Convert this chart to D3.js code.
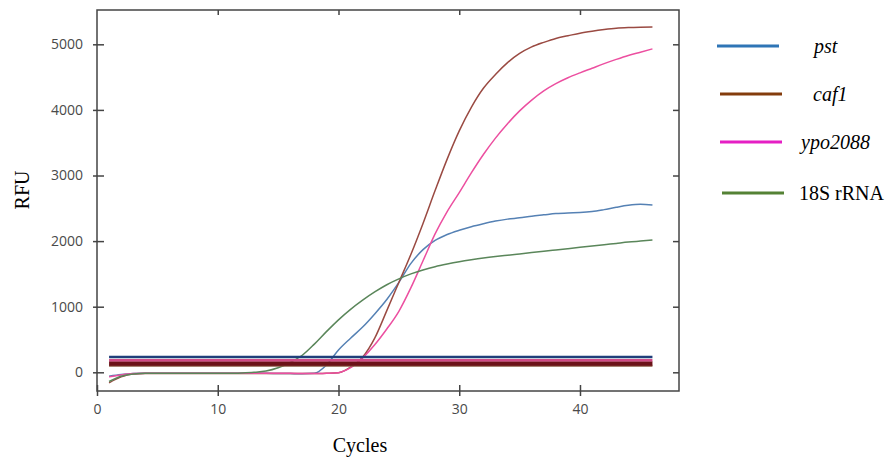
<!DOCTYPE html>
<html>
<head>
<meta charset="utf-8">
<script src="https://cdn.jsdelivr.net/npm/d3@7"></script>
<style>
  body { margin: 0; background: #fff; }
  .tick text { font-family: "Open Sans", "DejaVu Sans", sans-serif; font-size: 14px; fill: #4a4a4a; }
</style>
</head>
<body>
<svg width="894" height="458"></svg>
<script>
const svg = d3.select("svg");

// cycles 1..46
const cycles = d3.range(1, 47);

const pst = [-60, -35, -20, -15, -15, -15, -15, -15, -15, -15, -15, -15, -15, -15, -18, -20,
  -22, -15, 110, 340, 520, 690, 890, 1110, 1370, 1660, 1870, 2010, 2100, 2165, 2220, 2265,
  2305, 2335, 2355, 2380, 2400, 2420, 2430, 2435, 2450, 2480, 2515, 2545, 2560, 2550];

const caf1 = [-160, -70, -25, -20, -20, -20, -20, -20, -20, -20, -20, -20, -20, -20, -20, -20,
  -20, -20, -15, -5, 80, 230, 520, 940, 1370, 1800, 2270, 2770, 3250, 3680, 4040, 4330,
  4540, 4720, 4860, 4960, 5030, 5090, 5130, 5170, 5200, 5225, 5245, 5255, 5260, 5262];

const ypo2088 = [-70, -40, -20, -15, -15, -15, -15, -15, -15, -15, -15, -15, -15, -15, -15, -15,
  -18, -20, -15, -5, 70, 220, 420, 660, 930, 1290, 1700, 2110, 2450, 2740, 3040, 3320,
  3570, 3790, 3985, 4150, 4290, 4400, 4490, 4565, 4635, 4705, 4770, 4830, 4880, 4930];

const rRNA18S = [-140, -60, -25, -15, -15, -15, -15, -15, -15, -15, -15, -10, 0, 20, 70, 150,
  260, 430, 620, 800, 960, 1100, 1225, 1335, 1425, 1500, 1560, 1610, 1650, 1685, 1715, 1742,
  1765, 1785, 1805, 1825, 1845, 1865, 1885, 1905, 1925, 1945, 1965, 1985, 2000, 2015];

// threshold lines (RFU)
const thresholds = [
  { value: 100, color: "#8a5a44", width: 2 },
  { value: 135, color: "#6b1218", width: 4.5 },
  { value: 185, color: "#d04a86", width: 2.5 },
  { value: 233, color: "#1f3f7a", width: 2.5 }
];

const series = [
  { name: "pst", values: pst, color: "#5581b4", legend: "#2e75b6" },
  { name: "caf1", values: caf1, color: "#9a4a42", legend: "#843c0c" },
  { name: "ypo2088", values: ypo2088, color: "#ec4fa0", legend: "#e51fc4" },
  { name: "18S rRNA", values: rRNA18S, color: "#5a865a", legend: "#548235" }
];

const xTicks = [0, 10, 20, 30, 40];
const yTicks = [0, 1000, 2000, 3000, 4000, 5000];

const plotLeft = 97, plotRight = 679, plotTop = 10, plotBottom = 391;
const x = d3.scaleLinear().domain([0, 48.2]).range([plotLeft, plotRight]);
const y = d3.scaleLinear().domain([-285, 5523]).range([plotBottom, plotTop]);

const line = d3.line()
  .x((d, i) => x(cycles[i]))
  .y(d => y(d))
  .curve(d3.curveMonotoneX);

// curves
series.forEach(s => {
  svg.append("path")
    .datum(s.values)
    .attr("fill", "none")
    .attr("stroke", s.color)
    .attr("stroke-width", 1.5)
    .attr("d", line);
});

// thresholds on top
thresholds.forEach(t => {
  svg.append("line")
    .attr("x1", x(1)).attr("x2", x(46))
    .attr("y1", y(t.value)).attr("y2", y(t.value))
    .attr("stroke", t.color)
    .attr("stroke-width", t.width);
});

// frame
svg.append("rect")
  .attr("x", plotLeft).attr("y", plotTop)
  .attr("width", plotRight - plotLeft).attr("height", plotBottom - plotTop)
  .attr("fill", "none")
  .attr("stroke", "#444")
  .attr("stroke-width", 1.5);

// axes
const xAxis = svg.append("g")
  .attr("transform", `translate(0,${plotBottom})`)
  .call(d3.axisBottom(x).tickValues(xTicks).tickFormat(d3.format("d")).tickSize(5).tickPadding(8));
xAxis.select(".domain").remove();
xAxis.selectAll(".tick line").attr("y1", -6).attr("y2", 5).attr("stroke", "#444").attr("stroke-width", 1.5);

const yAxis = svg.append("g")
  .attr("transform", `translate(${plotLeft},0)`)
  .call(d3.axisLeft(y).tickValues(yTicks).tickFormat(d3.format("d")).tickSize(4).tickPadding(10));
yAxis.select(".domain").remove();
yAxis.selectAll(".tick line").attr("x1", -4).attr("x2", 7).attr("stroke", "#444").attr("stroke-width", 1.5);

// mirrored ticks on top and right
svg.append("g")
  .attr("transform", `translate(0,${plotTop})`)
  .call(d3.axisTop(x).tickValues(xTicks.slice(1)).tickSize(-5).tickFormat(""))
  .call(g => g.select(".domain").remove())
  .selectAll(".tick line").attr("stroke", "#444").attr("stroke-width", 1.5);

svg.append("g")
  .attr("transform", `translate(${plotRight},0)`)
  .call(d3.axisRight(y).tickValues(yTicks).tickSize(-6).tickFormat(""))
  .call(g => g.select(".domain").remove())
  .selectAll(".tick line").attr("stroke", "#444").attr("stroke-width", 1.5);

// axis titles
svg.append("text")
  .attr("x", 360).attr("y", 452)
  .attr("text-anchor", "middle")
  .attr("font-family", "Liberation Serif, Times New Roman, serif")
  .attr("font-size", 20)
  .text("Cycles");

svg.append("text")
  .attr("transform", "translate(29,190) rotate(-90)")
  .attr("text-anchor", "middle")
  .attr("font-family", "Liberation Serif, Times New Roman, serif")
  .attr("font-size", 20)
  .text("RFU");

// legend
const legendY = [46, 94, 142, 193];
const legendLineX = [717, 720, 720, 722];
const legendTextX = [814, 813, 801, 799];

series.forEach((s, i) => {
  svg.append("line")
    .attr("x1", legendLineX[i]).attr("x2", legendLineX[i] + 62)
    .attr("y1", legendY[i]).attr("y2", legendY[i])
    .attr("stroke", s.legend)
    .attr("stroke-width", 3);
  svg.append("text")
    .attr("x", legendTextX[i]).attr("y", legendY[i] + 7)
    .attr("font-family", "Liberation Serif, Times New Roman, serif")
    .attr("font-size", 20)
    .attr("font-style", i < 3 ? "italic" : "normal")
    .text(s.name);
});
</script>
</body>
</html>
